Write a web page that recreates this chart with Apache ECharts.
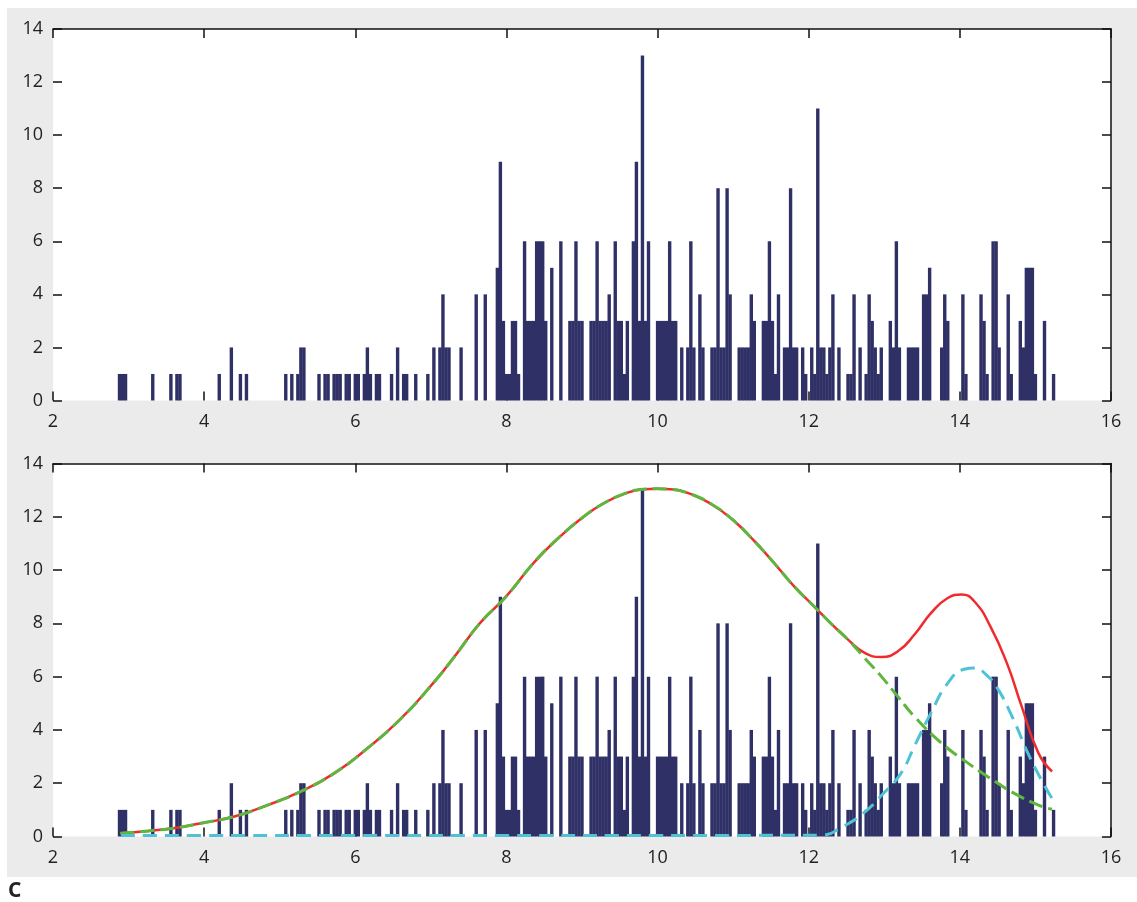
<!DOCTYPE html>
<html>
<head>
<meta charset="utf-8">
<script src="https://cdn.jsdelivr.net/npm/echarts@6/dist/echarts.min.js"></script>
<style>
  html, body { margin: 0; padding: 0; background: #fff; }
  #chart { width: 1137px; height: 902px; }
</style>
</head>
<body>
<div id="chart"></div>
<script>
// histogram bins (bin centre, count), bin width 0.04
const binX = [
  2.88, 2.92, 2.96, 3.32, 3.56, 3.64, 3.68, 4.20, 4.36, 4.48, 4.56,
  5.08, 5.16, 5.24, 5.28, 5.32, 5.52, 5.60, 5.64, 5.72, 5.76, 5.80, 5.88, 5.92,
  6.00, 6.04, 6.12, 6.16, 6.20, 6.28, 6.32, 6.48, 6.56, 6.64, 6.68, 6.80, 6.96,
  7.04, 7.12, 7.16, 7.20, 7.24, 7.40, 7.60, 7.72, 7.88, 7.92, 7.96,
  8.00, 8.04, 8.08, 8.12, 8.16, 8.24, 8.28, 8.32, 8.36, 8.40, 8.44, 8.48, 8.52,
  8.60, 8.72, 8.84, 8.88, 8.92, 8.96, 9.00, 9.12, 9.16, 9.20, 9.24, 9.28, 9.32,
  9.36, 9.44, 9.48, 9.52, 9.56, 9.60, 9.68, 9.72, 9.76, 9.80, 9.84, 9.88,
  10.00, 10.04, 10.08, 10.12, 10.16, 10.20, 10.24, 10.32, 10.40, 10.44, 10.48,
  10.56, 10.60, 10.72, 10.76, 10.80, 10.84, 10.88, 10.92, 10.96,
  11.08, 11.12, 11.16, 11.20, 11.24, 11.28, 11.40, 11.44, 11.48, 11.52, 11.56,
  11.60, 11.68, 11.72, 11.76, 11.80, 11.84, 11.92, 11.96,
  12.04, 12.08, 12.12, 12.16, 12.20, 12.24, 12.28, 12.32, 12.40, 12.52, 12.56,
  12.60, 12.68, 12.76, 12.80, 12.84, 12.88, 12.92, 12.96,
  13.08, 13.12, 13.16, 13.20, 13.32, 13.36, 13.40, 13.44, 13.52, 13.56, 13.60,
  13.76, 13.80, 13.84, 14.04, 14.08, 14.28, 14.32, 14.36, 14.44, 14.48, 14.52,
  14.64, 14.68, 14.80, 14.84, 14.88, 14.92, 14.96, 15.00, 15.12, 15.24
]
const binCount = [
  1, 1, 1, 1, 1, 1, 1, 1, 2, 1, 1,
  1, 1, 1, 2, 2, 1, 1, 1, 1, 1, 1, 1, 1,
  1, 1, 1, 2, 1, 1, 1, 1, 2, 1, 1, 1, 1,
  2, 2, 4, 2, 2, 2, 4, 4, 5, 9, 3,
  1, 1, 3, 3, 1, 6, 3, 3, 3, 6, 6, 6, 3,
  5, 6, 3, 3, 6, 3, 3, 3, 3, 6, 3, 3, 3,
  4, 6, 3, 3, 1, 3, 6, 9, 3, 13, 3, 6,
  3, 3, 3, 3, 6, 3, 3, 2, 2, 6, 2,
  4, 2, 2, 2, 8, 2, 2, 8, 4,
  2, 2, 2, 2, 4, 3, 3, 3, 6, 3, 1,
  4, 2, 2, 8, 2, 2, 2, 1,
  2, 1, 11, 2, 2, 1, 2, 4, 2, 1, 1,
  4, 2, 1, 4, 3, 2, 1, 2,
  3, 2, 6, 2, 2, 2, 2, 2, 4, 4, 5,
  2, 4, 3, 4, 1, 4, 3, 1, 6, 6, 2,
  4, 1, 3, 2, 5, 5, 5, 1, 3, 1
]

// fitted curves
// sum of both components (red)
const sumX = [2.89, 3.26, 3.64, 3.96, 4.40, 4.84, 5.28, 5.72, 6.16, 6.61, 7.05, 7.32, 7.65,
  8.0, 8.36, 8.69, 9.03, 9.26, 9.54, 9.81, 10.0, 10.17, 10.45, 10.72, 10.99, 11.26, 11.54,
  11.81, 12.07, 12.30, 12.52, 12.74, 12.96, 13.18, 13.40, 13.62, 13.84, 14.02, 14.19,
  14.41, 14.63, 14.81, 15.04, 15.22]
const sumY = [0.12, 0.21, 0.33, 0.50, 0.75, 1.18, 1.69, 2.37, 3.31, 4.44, 5.82, 6.78, 8.01,
  9.02, 10.27, 11.21, 12.02, 12.46, 12.84, 13.03, 13.05, 13.03, 12.84, 12.46, 11.9, 11.15, 10.27,
  9.38, 8.64, 7.98, 7.39, 6.89, 6.74, 6.95, 7.58, 8.39, 8.95, 9.08, 8.83,
  7.85, 6.45, 4.95, 3.13, 2.44]
// large component (green)
const bigX = [2.89, 3.26, 3.64, 3.96, 4.40, 4.84, 5.28, 5.72, 6.16, 6.61, 7.05, 7.32, 7.65,
  8.0, 8.36, 8.69, 9.03, 9.26, 9.54, 9.81, 10.0, 10.17, 10.45, 10.72, 10.99, 11.26, 11.54,
  11.81, 12.07, 12.30, 12.52, 12.74, 12.96, 13.18, 13.40, 13.76, 14.08, 14.40, 14.72, 15.04, 15.22]
const bigY = [0.12, 0.21, 0.33, 0.50, 0.75, 1.18, 1.69, 2.37, 3.31, 4.44, 5.82, 6.78, 8.01,
  9.02, 10.27, 11.21, 12.02, 12.46, 12.84, 13.03, 13.05, 13.03, 12.84, 12.46, 11.9, 11.15, 10.27,
  9.38, 8.64, 7.98, 7.39, 6.70, 6.01, 5.25, 4.50, 3.50, 2.81, 2.19, 1.62, 1.18, 1.02]
// small component (cyan)
const smallX = [2.9, 4.0, 6.0, 8.0, 10.0, 12.17, 12.45, 12.72, 12.99, 13.22, 13.40, 13.62, 13.84,
  14.06, 14.19, 14.35, 14.50, 14.70, 14.9, 15.08, 15.22]
const smallY = [0.04, 0.04, 0.04, 0.04, 0.04, 0.05, 0.37, 0.87, 1.62, 2.37, 3.40, 4.65, 5.76,
  6.28, 6.32, 6.07, 5.55, 4.45, 3.13, 2.12, 1.43]

const xTicks = { min: 2, max: 16, interval: 2 }
const yTicks = { min: 0, max: 14, interval: 2 }

const zip = (xs, ys) => xs.map((x, i) => [x, ys[i]])
const labelFont = { color: '#222', fontSize: 18, fontFamily: 'Open Sans' }

function xAxis (grid, position) {
  const top = position === 'top'
  return {
    type: 'value', gridIndex: grid, position: position, ...xTicks,
    axisLine: { show: top, onZero: false, lineStyle: { color: '#111', width: 1.5 } },
    axisTick: { show: true, inside: true, length: 9, lineStyle: { color: '#111', width: 1.5 } },
    axisLabel: { show: !top, margin: 12, ...labelFont },
    splitLine: { show: false }
  }
}
function yAxis (grid, position) {
  const right = position === 'right'
  return {
    type: 'value', gridIndex: grid, position: position, ...yTicks,
    axisLine: { show: right, lineStyle: { color: '#111', width: 1.5 } },
    axisTick: { show: true, inside: true, length: 9, lineStyle: { color: '#111', width: 1.5 } },
    axisLabel: { show: !right, margin: 10, ...labelFont },
    splitLine: { show: false }
  }
}
function bars (grid) {
  return {
    type: 'bar', xAxisIndex: grid * 2, yAxisIndex: grid * 2,
    data: zip(binX, binCount), barWidth: 3.4,
    itemStyle: { color: '#2f3066' },
    animation: false, z: 2
  }
}
function curve (xs, ys, color, dash, width) {
  return {
    type: 'line', xAxisIndex: 2, yAxisIndex: 2, data: zip(xs, ys),
    smooth: 0.5, showSymbol: false, animation: false, z: 3,
    lineStyle: { color: color, width: width, type: dash }
  }
}

const chart = echarts.init(document.getElementById('chart'))
chart.setOption({
  backgroundColor: '#fff',
  animation: false,
  graphic: [
    { type: 'rect', z: -10, shape: { x: 7, y: 8, width: 1130, height: 869 }, style: { fill: '#ebebeb' } },
    { type: 'text', left: 8, top: 881, style: { text: 'C', fill: '#222', font: 'bold 21px "Open Sans"' } }
  ],
  grid: [
    { left: 53, top: 29, right: 26, height: 371.5, show: true, backgroundColor: '#fff', borderWidth: 0 },
    { left: 53, top: 463.5, right: 26, height: 373, show: true, backgroundColor: '#fff', borderWidth: 0 }
  ],
  xAxis: [xAxis(0, 'bottom'), xAxis(0, 'top'), xAxis(1, 'bottom'), xAxis(1, 'top')],
  yAxis: [yAxis(0, 'left'), yAxis(0, 'right'), yAxis(1, 'left'), yAxis(1, 'right')],
  series: [
    bars(0),
    bars(1),
    curve(sumX, sumY, '#ef2b2d', 'solid', 2.5),
    curve(bigX, bigY, '#5fb63e', [14, 6], 3),
    curve(smallX, smallY, '#4fc2d6', [14, 8], 3)
  ]
})
</script>
</body>
</html>
